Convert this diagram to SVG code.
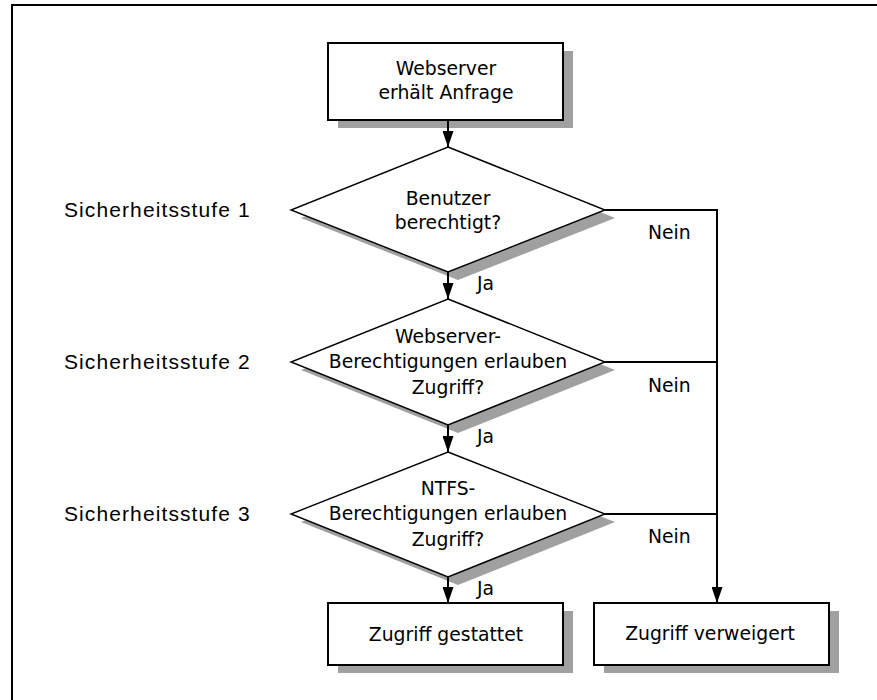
<svg xmlns="http://www.w3.org/2000/svg" width="877" height="700" viewBox="0 0 877 700">
<style>
.frame{fill:none;stroke:#000;stroke-width:2}
.box{fill:#fff;stroke:#000;stroke-width:2}
.dia{fill:#fff;stroke:#000;stroke-width:1.4}
.shadow{fill:#a0a0a0;stroke:none}
.conn{fill:none;stroke:#000;stroke-width:2}
.t{font-family:"DejaVu Sans",Verdana,sans-serif;font-size:18.8px;fill:#000;text-anchor:middle}
.lbl{font-family:"DejaVu Sans",Verdana,sans-serif;font-size:18.8px;fill:#000}
.lvl{font-family:"Liberation Sans",Arial,sans-serif;font-size:21px;letter-spacing:1.1px;fill:#000}
</style>
<defs>
<marker id="ah" viewBox="0 0 16 11" refX="16" refY="5.5" markerWidth="16" markerHeight="11" markerUnits="userSpaceOnUse" orient="auto">
<path d="M0,0 L16,5.5 L0,11 Z" fill="#000"/>
</marker>
</defs>
<rect width="877" height="700" fill="#fff"/>
<path class="frame" d="M12,700 L12,5 L877,5"/>

<g id="levels">
<text class="lvl" x="64" y="217">Sicherheitsstufe 1</text>
<text class="lvl" x="64" y="369">Sicherheitsstufe 2</text>
<text class="lvl" x="64" y="521">Sicherheitsstufe 3</text>
</g>

<g id="start">
<rect class="shadow" x="338" y="51" width="235" height="77"/>
<rect class="box" x="328" y="43" width="235" height="77"/>
<text class="t" x="446" y="75">Webserver</text>
<text class="t" x="446" y="99">erhält Anfrage</text>
</g>

<g id="check1">
<polygon class="shadow" points="458,155 615,218 458,280 301,218"/>
<polygon class="dia" points="448,147 605,210 448,272 291,210"/>
<text class="t" x="448" y="205">Benutzer</text>
<text class="t" x="448" y="229">berechtigt?</text>
</g>

<g id="check2">
<polygon class="shadow" points="458,307 615,370 458,433 301,370"/>
<polygon class="dia" points="448,299 605,362 448,425 291,362"/>
<text class="t" x="448" y="343">Webserver-</text>
<text class="t" x="448" y="368">Berechtigungen erlauben</text>
<text class="t" x="448" y="394">Zugriff?</text>
</g>

<g id="check3">
<polygon class="shadow" points="458,460 615,522 458,585 301,522"/>
<polygon class="dia" points="448,452 605,514 448,577 291,514"/>
<text class="t" x="448" y="495">NTFS-</text>
<text class="t" x="448" y="520">Berechtigungen erlauben</text>
<text class="t" x="448" y="546">Zugriff?</text>
</g>

<g id="granted">
<rect class="shadow" x="338" y="611" width="235" height="62"/>
<rect class="box" x="328" y="603" width="235" height="62"/>
<text class="t" x="446" y="641">Zugriff gestattet</text>
</g>

<g id="denied">
<rect class="shadow" x="604" y="611" width="235" height="62"/>
<rect class="box" x="594" y="603" width="235" height="62"/>
<text class="t" x="710" y="640">Zugriff verweigert</text>
</g>

<g id="connectors">
<path class="conn" d="M448,120 L448,147" marker-end="url(#ah)"/>
<path class="conn" d="M448,272 L448,299" marker-end="url(#ah)"/>
<path class="conn" d="M448,425 L448,452" marker-end="url(#ah)"/>
<path class="conn" d="M448,577 L448,603" marker-end="url(#ah)"/>
<path class="conn" d="M605,210 L717,210 L717,603" marker-end="url(#ah)"/>
<path class="conn" d="M605,362 L717,362"/>
<path class="conn" d="M605,514 L717,514"/>
<text class="lbl" x="477" y="290">Ja</text>
<text class="lbl" x="477" y="443">Ja</text>
<text class="lbl" x="477" y="595">Ja</text>
<text class="lbl" x="648" y="239">Nein</text>
<text class="lbl" x="648" y="392">Nein</text>
<text class="lbl" x="648" y="543">Nein</text>
</g>
</svg>
